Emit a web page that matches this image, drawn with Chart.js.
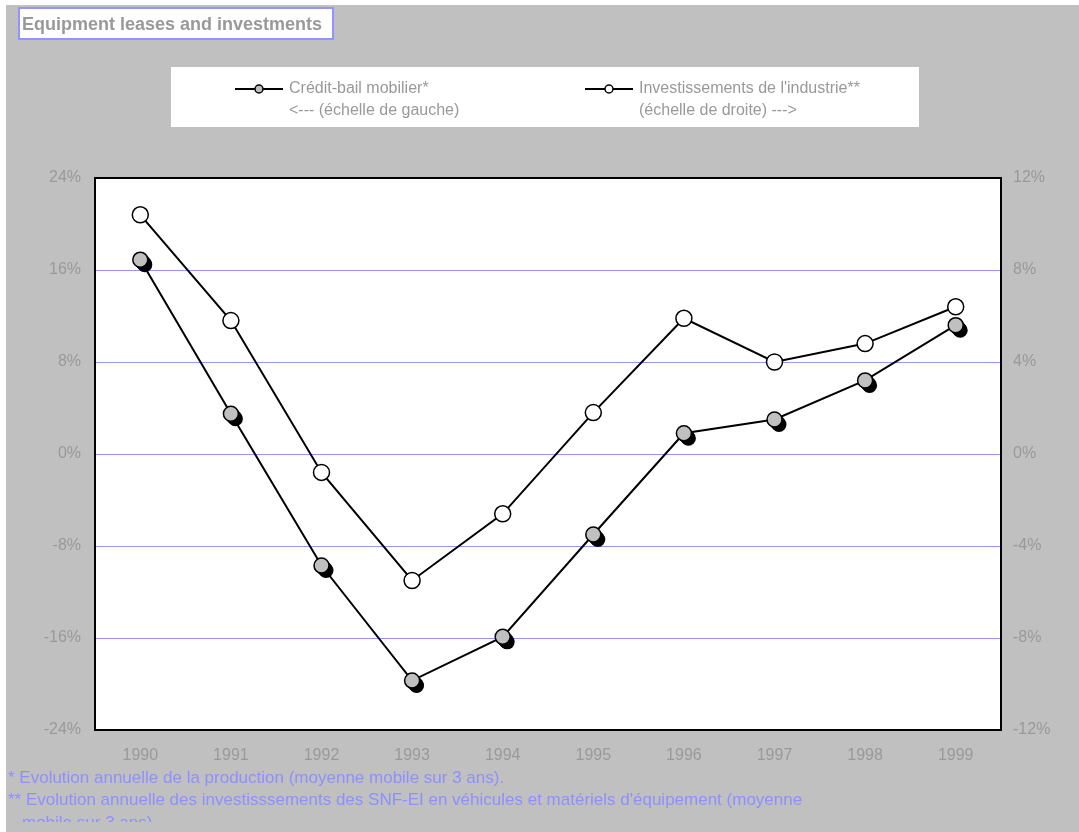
<!DOCTYPE html>
<html>
<head>
<meta charset="utf-8">
<script src="https://cdn.jsdelivr.net/npm/chart.js@4"></script>
<style>
  html, body { margin: 0; padding: 0; background: #fff; }
  #wrap { width: 1079px; height: 832px; }
</style>
</head>
<body>
<div id="wrap"><canvas id="c" width="1079" height="832"></canvas></div>
<script>
// Years on the horizontal axis
const years = ['1990', '1991', '1992', '1993', '1994', '1995', '1996', '1997', '1998', '1999'];
// Annual change of equipment leasing (left scale, %)
const creditBail = [16.9, 3.5, -9.7, -19.7, -15.9, -7.0, 1.8, 3.0, 6.4, 11.2];
// Annual change of industrial investment (right scale, %)
const investissements = [10.4, 5.8, -0.8, -5.5, -2.6, 1.8, 5.9, 4.0, 4.8, 6.4];
// Tick values of both vertical scales
const leftTicks = [-24, -16, -8, 0, 8, 16, 24];
const rightTicks = [-12, -8, -4, 0, 4, 8, 12];

const titleText = 'Equipment leases and investments';
const legendLabels = [
  ['Crédit-bail mobilier*', '<--- (échelle de gauche)'],
  ["Investissements de l'industrie**", '(échelle de droite) --->']
];
const footnotes = [
  '* Evolution annuelle de la production (moyenne mobile sur 3 ans).',
  "** Evolution annuelle des investisssements des SNF-EI en véhicules et matériels d'équipement (moyenne",
  'mobile sur 3 ans).'
];

const FONT = 'Liberation Sans, Arial, sans-serif';
const GREY_TEXT = '#999999';
const LILAC = '#9494ff';

const decor = {
  id: 'decor',
  beforeDraw(chart) {
    const { ctx, chartArea: a, width, height } = chart;
    ctx.save();
    ctx.fillStyle = '#ffffff';
    ctx.fillRect(0, 0, width, height);
    ctx.fillStyle = '#c0c0c0';
    ctx.fillRect(6, 5, width - 6, height - 5);
    ctx.fillStyle = '#ffffff';
    ctx.fillRect(a.left, a.top, a.right - a.left, a.bottom - a.top);
    ctx.restore();
  },
  beforeDatasetDraw(chart, args) {
    // dark extruded shadow under the grey markers
    if (args.index !== 0) return;
    const ctx = chart.ctx;
    ctx.save();
    ctx.fillStyle = '#000000';
    for (const pt of args.meta.data) {
      for (let k = 1; k <= 5; k++) {
        ctx.beginPath();
        ctx.arc(pt.x + k * 0.9, pt.y + k, 7.5, 0, Math.PI * 2);
        ctx.fill();
      }
    }
    ctx.restore();
  },
  afterDraw(chart) {
    const { ctx, chartArea: a } = chart;
    ctx.save();
    // plot frame
    ctx.strokeStyle = '#000000';
    ctx.lineWidth = 2;
    ctx.strokeRect(a.left, a.top, a.right - a.left, a.bottom - a.top);

    // title box
    ctx.fillStyle = '#ffffff';
    ctx.fillRect(19, 8, 314, 31);
    ctx.strokeStyle = LILAC;
    ctx.lineWidth = 2;
    ctx.strokeRect(19, 8, 314, 31);
    ctx.fillStyle = GREY_TEXT;
    ctx.font = 'bold 18px ' + FONT;
    ctx.textBaseline = 'alphabetic';
    ctx.textAlign = 'left';
    ctx.fillText(titleText, 22, 30);

    // legend box
    ctx.fillStyle = '#ffffff';
    ctx.fillRect(171, 67, 748, 60);
    const items = [
      { x: 235, fill: '#c0c0c0', lines: legendLabels[0] },
      { x: 585, fill: '#ffffff', lines: legendLabels[1] }
    ];
    ctx.font = '16px ' + FONT;
    ctx.textBaseline = 'middle';
    for (const it of items) {
      ctx.strokeStyle = '#000000';
      ctx.lineWidth = 2;
      ctx.beginPath();
      ctx.moveTo(it.x, 89);
      ctx.lineTo(it.x + 48, 89);
      ctx.stroke();
      ctx.beginPath();
      ctx.arc(it.x + 24, 89, 4, 0, Math.PI * 2);
      ctx.fillStyle = it.fill;
      ctx.fill();
      ctx.lineWidth = 1.5;
      ctx.stroke();
      ctx.fillStyle = GREY_TEXT;
      ctx.fillText(it.lines[0], it.x + 54, 89);
      ctx.fillText(it.lines[1], it.x + 54, 111);
    }

    // footnotes, the last line cut by the frame edge
    ctx.beginPath();
    ctx.rect(0, 0, chart.width, 822);
    ctx.clip();
    ctx.fillStyle = '#8f8fff';
    ctx.font = '17px ' + FONT;
    ctx.fillText(footnotes[0], 8, 778);
    ctx.fillText(footnotes[1], 8, 800);
    ctx.fillText(footnotes[2], 22, 823);
    ctx.restore();
  }
};

const tickFont = { family: FONT, size: 16 };

new Chart(document.getElementById('c'), {
  type: 'line',
  data: {
    labels: years,
    datasets: [
      {
        label: legendLabels[0][0],
        data: creditBail,
        yAxisID: 'y',
        borderColor: '#000000',
        borderWidth: 2,
        pointRadius: 7.5,
        pointBorderWidth: 1.5,
        pointBackgroundColor: '#c0c0c0',
        pointBorderColor: '#000000',
        tension: 0
      },
      {
        label: legendLabels[1][0],
        data: investissements,
        yAxisID: 'y2',
        borderColor: '#000000',
        borderWidth: 2,
        pointRadius: 8,
        pointBorderWidth: 1.5,
        pointBackgroundColor: '#ffffff',
        pointBorderColor: '#000000',
        tension: 0
      }
    ]
  },
  options: {
    responsive: false,
    animation: false,
    devicePixelRatio: 1,
    layout: { padding: { top: 178, left: 0, right: 0, bottom: 0 } },
    plugins: {
      legend: { display: false },
      title: { display: false },
      tooltip: { enabled: false }
    },
    scales: {
      x: {
        type: 'category',
        offset: true,
        grid: { display: false, drawTicks: false },
        border: { display: false },
        ticks: { color: GREY_TEXT, font: tickFont, padding: 16, maxRotation: 0 },
        afterFit(s) { s.height = 102; }
      },
      y: {
        position: 'left',
        min: -24,
        max: 24,
        afterBuildTicks(s) { s.ticks = leftTicks.map(v => ({ value: v })); },
        ticks: { color: GREY_TEXT, font: tickFont, padding: 14, callback: v => v + '%' },
        grid: { color: LILAC, lineWidth: 1, drawTicks: false },
        border: { display: false },
        afterFit(s) { s.width = 95; }
      },
      y2: {
        position: 'right',
        min: -12,
        max: 12,
        afterBuildTicks(s) { s.ticks = rightTicks.map(v => ({ value: v })); },
        ticks: { color: GREY_TEXT, font: tickFont, padding: 12, callback: v => v + '%' },
        grid: { display: false, drawTicks: false },
        border: { display: false },
        afterFit(s) { s.width = 78; }
      }
    }
  },
  plugins: [decor]
});
</script>
</body>
</html>
